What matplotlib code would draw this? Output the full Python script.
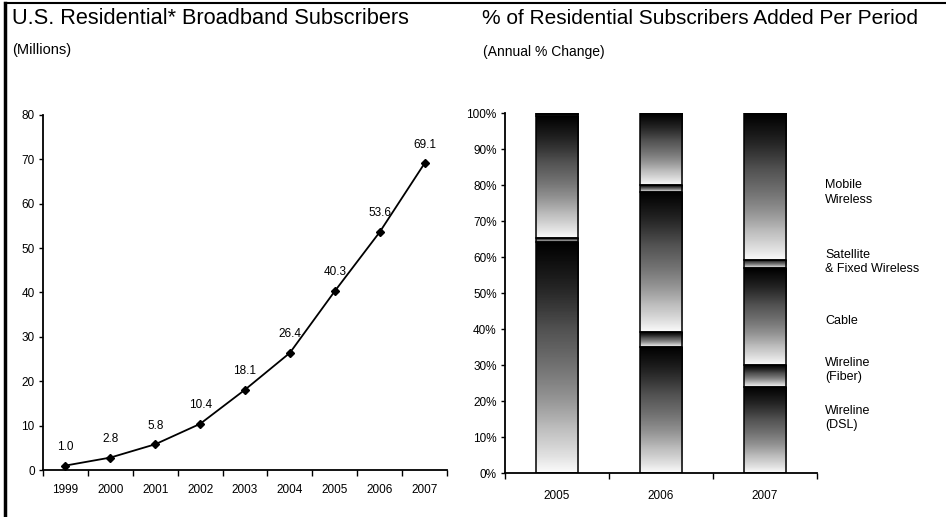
import numpy as np
import matplotlib
matplotlib.use('Agg')
import matplotlib.pyplot as plt
from matplotlib.lines import Line2D

plt.rcParams['font.family'] = ['Liberation Sans', 'DejaVu Sans']

# left chart data
years = ['1999', '2000', '2001', '2002', '2003', '2004', '2005', '2006', '2007']
subscribers = [1.0, 2.8, 5.8, 10.4, 18.1, 26.4, 40.3, 53.6, 69.1]

# right chart data (share of adds, %)
periods = ['2005', '2006', '2007']
segments = ['Wireline\n(DSL)', 'Wireline\n(Fiber)', 'Cable',
            'Satellite\n& Fixed Wireless', 'Mobile\nWireless']
dsl = [64.2, 35.1, 24.0]
fiber = [1.0, 4.1, 6.0]
cable = [34.0, 38.9, 26.9]
satellite = [0.4, 1.9, 2.3]
mobile = [0.4, 20.0, 40.8]
legend_y = [15.3, 28.6, 42.2, 58.6, 78.0]

fig = plt.figure(figsize=(9.46, 5.17), dpi=100)

# --- left: line chart
ax1 = fig.add_axes([0.0455, 0.0909, 0.427, 0.6867])
x = np.arange(len(years))
ax1.plot(x, subscribers, color='black', lw=1.3, marker='D', ms=4.5, mfc='black', mec='black')
for xi, v in zip(x, subscribers):
    ax1.annotate(f'{v:.1f}', (xi, v), xytext=(0, 13.5), textcoords='offset points',
                 ha='center', va='center', fontsize=8.5)
ax1.set_xlim(-0.5, len(years) - 0.5)
ax1.set_ylim(0, 80)
ax1.set_yticks(range(0, 81, 10))
ax1.set_xticks(np.arange(-0.5, len(years), 1.0))
ax1.set_xticklabels([])
ax1.set_xticks(x, minor=True)
ax1.set_xticklabels(years, minor=True)
ax1.tick_params(axis='x', which='minor', length=0, pad=10, labelsize=8.5)
ax1.tick_params(axis='x', which='major', length=4, width=1)
ax1.tick_params(axis='y', length=3, width=1, labelsize=8.5, pad=3)
for s in ['top', 'right']:
    ax1.spines[s].set_visible(False)
for s in ['left', 'bottom']:
    ax1.spines[s].set_linewidth(1.3)

# --- right: 100% stacked bars with gradient fills (light bottom -> dark top)
ax2 = fig.add_axes([0.5338, 0.0851, 0.3298, 0.6963])
xb = np.arange(len(periods))
bottom = np.zeros(len(periods))
grad = (np.linspace(0.0, 1.0, 256) ** 0.6).reshape(-1, 1)
for vals in [dsl, fiber, cable, satellite, mobile]:
    bars = ax2.bar(xb, vals, width=0.41, bottom=bottom, facecolor='none',
                   edgecolor='black', linewidth=1.1, zorder=3)
    for b in bars:
        bx, by = b.get_x(), b.get_y()
        bw, bh = b.get_width(), b.get_height()
        im = ax2.imshow(grad, cmap='Greys', vmin=0, vmax=1, aspect='auto',
                        extent=[bx, bx + bw, by, by + bh], origin='lower', zorder=2)
        im.set_clip_path(b)
    bottom = bottom + np.array(vals)
ax2.set_xlim(-0.5, len(periods) - 0.5)
ax2.set_ylim(0, 100)
ax2.set_yticks(range(0, 101, 10))
ax2.set_yticklabels([f'{v}%' for v in range(0, 101, 10)])
ax2.set_xticks(np.arange(-0.5, len(periods), 1.0))
ax2.set_xticklabels([])
ax2.set_xticks(xb, minor=True)
ax2.set_xticklabels(periods, minor=True)
ax2.tick_params(axis='x', which='minor', length=0, pad=12, labelsize=8.5)
ax2.tick_params(axis='x', which='major', length=4, width=1)
ax2.tick_params(axis='y', length=3, width=1, labelsize=8.5, pad=3)
for s in ['top', 'right']:
    ax2.spines[s].set_visible(False)
for s in ['left', 'bottom']:
    ax2.spines[s].set_linewidth(1.3)
for lab, yv in zip(segments, legend_y):
    ax2.text(2.58, yv, lab, ha='left', va='center', fontsize=9, linespacing=1.3,
             transform=ax2.transData, clip_on=False)

# titles
fig.text(12 / 946, 1 - 19 / 517, 'U.S. Residential* Broadband Subscribers', fontsize=15.7,
         ha='left', va='center')
fig.text(12 / 946, 1 - 50 / 517, '(Millions)', fontsize=10.5, ha='left', va='center')
fig.text(482 / 946, 1 - 19 / 517, '% of Residential Subscribers Added Per Period', fontsize=15,
         ha='left', va='center')
fig.text(483 / 946, 1 - 52 / 517, '(Annual % Change)', fontsize=10, ha='left', va='center')

# frame lines
fig.add_artist(Line2D([5 / 946, 5 / 946], [0, 1 - 3 / 517], color='black', lw=2.5,
                      transform=fig.transFigure))
fig.add_artist(Line2D([5 / 946, 1], [1 - 3 / 517, 1 - 3 / 517], color='black', lw=1.5,
                      transform=fig.transFigure))

fig.savefig('out.png', dpi=100)
